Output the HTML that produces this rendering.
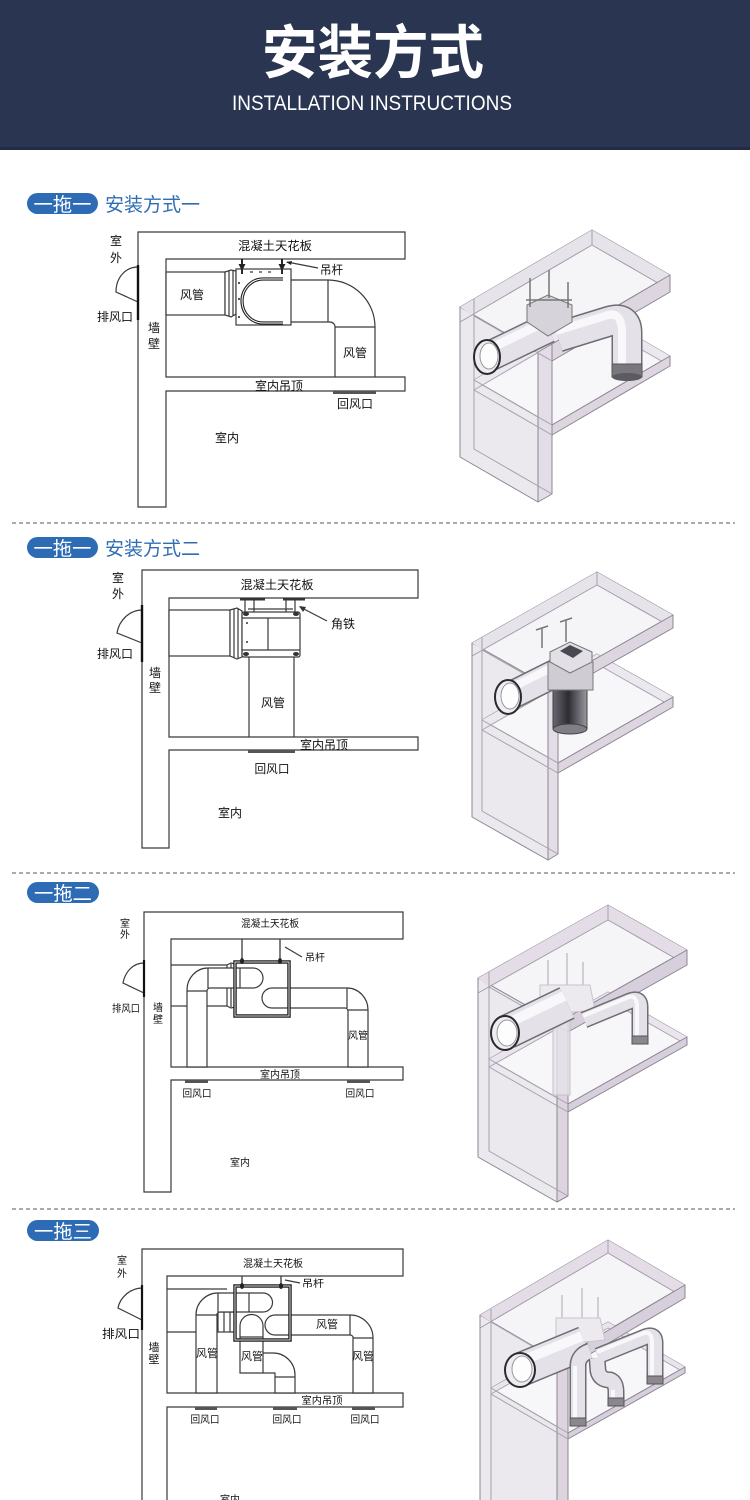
<!DOCTYPE html>
<html><head><meta charset="utf-8">
<style>
html,body{margin:0;padding:0;background:#fff;}
svg{display:block;}
text{font-family:"Liberation Sans","Noto Sans CJK SC",sans-serif;}
</style></head><body>
<svg width="750" height="1500" viewBox="0 0 750 1500" xmlns="http://www.w3.org/2000/svg">
<defs>
 <linearGradient id="dk" x1="0" x2="1" y1="0" y2="0">
  <stop offset="0" stop-color="#6a6870"/><stop offset="0.45" stop-color="#2e2c33"/><stop offset="1" stop-color="#9a98a0"/>
 </linearGradient>
</defs>

<!-- HEADER -->
<rect width="750" height="150" fill="#2a3552"/>
<rect y="147" width="750" height="3" fill="#222b43"/>
<text x="373" y="73" text-anchor="middle" font-size="58" font-weight="bold" fill="#fff" textLength="222" lengthAdjust="spacingAndGlyphs">安装方式</text>
<text x="372" y="110" text-anchor="middle" font-size="21" fill="#fff" textLength="280" lengthAdjust="spacingAndGlyphs">INSTALLATION INSTRUCTIONS</text>

<!-- dashed separators -->
<g stroke="#555" stroke-width="1" stroke-dasharray="4 3">
 <line x1="12" y1="523" x2="735" y2="523"/>
 <line x1="12" y1="873" x2="735" y2="873"/>
 <line x1="12" y1="1209" x2="735" y2="1209"/>
</g>

<!-- PILLS -->
<rect x="27" y="193" width="71" height="21" rx="10.5" fill="#2d6cb4"/>
<text x="62.5" y="211" text-anchor="middle" font-size="19" fill="#fff" textLength="58" lengthAdjust="spacingAndGlyphs">一拖一</text>
<text x="105" y="211" font-size="19" fill="#2f6db5" textLength="95" lengthAdjust="spacingAndGlyphs">安装方式一</text>

<rect x="27" y="537" width="71" height="21" rx="10.5" fill="#2d6cb4"/>
<text x="62.5" y="555" text-anchor="middle" font-size="19" fill="#fff" textLength="58" lengthAdjust="spacingAndGlyphs">一拖一</text>
<text x="105" y="555" font-size="19" fill="#2f6db5" textLength="95" lengthAdjust="spacingAndGlyphs">安装方式二</text>

<rect x="27" y="882" width="72" height="21" rx="10.5" fill="#2d6cb4"/>
<text x="63" y="900" text-anchor="middle" font-size="19" fill="#fff" textLength="58" lengthAdjust="spacingAndGlyphs">一拖二</text>

<rect x="27" y="1220" width="72" height="21" rx="10.5" fill="#2d6cb4"/>
<text x="63" y="1238" text-anchor="middle" font-size="19" fill="#fff" textLength="58" lengthAdjust="spacingAndGlyphs">一拖三</text>

<!-- ============ SECTION 1 2D ============ -->
<g fill="none" stroke="#3a3a3a" stroke-width="1.2">
 <path d="M138,232 H405 V259 H166 V377 H405 V391 H166 V507 H138 Z" fill="#fff"/>
 <path d="M138,267 C126,267 116,277 116,292 L138,302" fill="#fff"/>
 <line x1="138" y1="265" x2="138" y2="320" stroke="#111" stroke-width="2.4"/>
 <rect x="166" y="272" width="59" height="43" fill="#fff"/>
 <path d="M225,272 L231,270 L236,271 V314 L231,317 L225,315 Z" fill="#fff"/>
 <line x1="229" y1="271" x2="229" y2="316"/>
 <line x1="233" y1="270" x2="233" y2="316"/>
 <rect x="236" y="269" width="55" height="56" fill="#fff"/>
 <path d="M283,279 H263 A21 22 0 0 0 263,323 H283" stroke="#222" stroke-width="3.2"/>
 <path d="M283,279 H263 A21 22 0 0 0 263,323 H283" stroke="#fff" stroke-width="1"/>
 <path d="M291,280 H328 A47 47 0 0 1 375,327 V377"/>
 <path d="M291,322 H330 A5 5 0 0 1 335,327 V377"/>
 <line x1="328" y1="280" x2="328" y2="322"/>
 <line x1="335" y1="327" x2="375" y2="327"/>
 <line x1="242" y1="259" x2="242" y2="274" stroke="#111" stroke-width="1.8"/>
 <line x1="282" y1="259" x2="282" y2="274" stroke="#111" stroke-width="1.8"/>
 <line x1="287" y1="262" x2="318" y2="268"/>
 <line x1="250" y1="272" x2="275" y2="272" stroke-dasharray="3 6"/>
</g>
<g fill="#222">
 <path d="M238.5,264 L242,271 L245.5,264 Z"/>
 <path d="M278.5,264 L282,271 L285.5,264 Z"/>
 <circle cx="239" cy="283" r="1"/><circle cx="239" cy="299" r="1"/><circle cx="239" cy="317" r="1"/>
 <path d="M286,262 L292,261 L291,265 Z"/>
 <rect x="333" y="391" width="43" height="3" fill="#555"/>
</g>
<g font-size="12" fill="#111">
 <text x="275" y="250" text-anchor="middle" textLength="74" lengthAdjust="spacingAndGlyphs">混凝土天花板</text>
 <text x="116" y="245" text-anchor="middle">室</text>
 <text x="116" y="262" text-anchor="middle">外</text>
 <text x="97" y="321" textLength="36" lengthAdjust="spacingAndGlyphs">排风口</text>
 <text x="154" y="332" text-anchor="middle">墙</text>
 <text x="154" y="348" text-anchor="middle">壁</text>
 <text x="192" y="299" text-anchor="middle">风管</text>
 <text x="320" y="274" textLength="23" lengthAdjust="spacingAndGlyphs">吊杆</text>
 <text x="355" y="357" text-anchor="middle">风管</text>
 <text x="279" y="390" text-anchor="middle" textLength="48" lengthAdjust="spacingAndGlyphs">室内吊顶</text>
 <text x="355" y="408" text-anchor="middle" textLength="36" lengthAdjust="spacingAndGlyphs">回风口</text>
 <text x="227" y="442" text-anchor="middle">室内</text>
</g>

<!-- ============ SECTION 1 3D ============ -->
<g stroke="#8c8792" stroke-width="1" stroke-linejoin="round">
 <polygon points="460,307 538,352 538,502 460,457" fill="#ebe9ee"/>
 <polygon points="460,307 592,230 670,275 538,352" fill="#f5f4f7"/>
 <polygon points="460,307 592,230 670,275 670,290 592,245 472,315" fill="#e7e3eb" stroke="none"/>
 <polyline points="460,322 592,245 670,290" fill="none" stroke="#a29ca8"/>
 <polygon points="474,380 592,311 670,356 552,425" fill="#f7f6f9"/>
 <polygon points="474,380 592,311 670,356 670,366 592,321 474,390" fill="#ebe8ef" stroke="none"/>
 <polyline points="474,390 592,321 670,366" fill="none" stroke="#aaa5b0"/>
 <polygon points="552,344 670,275 670,292 552,361" fill="#ddd6e1"/>
 <polygon points="538,352 552,344 552,494 538,502" fill="#e2dde6"/>
 <polygon points="552,425 670,356 670,366 552,435" fill="#ddd6e1"/>
 <g fill="none" stroke="#a6a1ab">
  <polyline points="474,299 474,449 552,494"/>
  <line x1="474" y1="316" x2="552" y2="361"/>
  <line x1="474" y1="380" x2="552" y2="425"/>
  <line x1="474" y1="390" x2="552" y2="435"/>
  <line x1="592" y1="230" x2="592" y2="245"/>
 </g>
</g>
<g fill="none" stroke-linecap="butt">
 <path d="M490,356 L548,328" stroke="#6f6c74" stroke-width="31"/>
 <path d="M490,356 L548,328" stroke="#e4e2e8" stroke-width="28"/>
 <path d="M487,350 L545,322" stroke="#f8f7fa" stroke-width="9"/>
 <path d="M558,337 L610,321 Q627,316 627,333 L627,370" stroke="#6f6c74" stroke-width="31"/>
 <path d="M558,337 L610,321 Q627,316 627,333 L627,370" stroke="#e4e2e8" stroke-width="28"/>
 <path d="M556,331 L608,315 Q621,312 622,330 L622,368" stroke="#f8f7fa" stroke-width="8"/>
</g>
<rect x="612" y="364" width="30" height="13" fill="#7a787e" stroke="#555"/>
<ellipse cx="627" cy="377" rx="15" ry="4" fill="#5d5b62"/>
<polygon points="527,305 548,295 572,305 572,322 548,336 527,322" fill="#d6d4da" stroke="#777"/>
<g stroke="#777" stroke-width="1.5">
 <line x1="530" y1="278" x2="530" y2="307"/>
 <line x1="549" y1="270" x2="549" y2="298"/>
 <line x1="568" y1="282" x2="568" y2="308"/>
 <line x1="526" y1="300" x2="572" y2="300"/>
</g>
<ellipse cx="487" cy="357" rx="13" ry="17" fill="#eeecf1" stroke="#2a2a2e" stroke-width="2"/>
<ellipse cx="489" cy="356" rx="9" ry="13" fill="#fdfdfd" stroke="#9a98a0"/>

<!-- ============ SECTION 2 2D ============ -->
<g fill="none" stroke="#3a3a3a" stroke-width="1.2">
 <path d="M142,570 H418 V598 H169 V737 H418 V750 H169 V848 H142 Z" fill="#fff"/>
 <path d="M142,610 C130,610 119,620 117,633 L142,643" fill="#fff"/>
 <line x1="142" y1="605" x2="142" y2="662" stroke="#111" stroke-width="2.4"/>
 <rect x="169" y="610" width="61" height="46" fill="#fff"/>
 <path d="M230,610 L237,608 L242,611 V657 L237,659 L230,656 Z" fill="#fff"/>
 <line x1="234" y1="609" x2="234" y2="658"/>
 <line x1="238" y1="609" x2="238" y2="658"/>
 <rect x="242" y="612" width="58" height="45" rx="2" fill="#fff"/>
 <line x1="242" y1="618" x2="300" y2="618"/>
 <line x1="242" y1="650" x2="300" y2="650"/>
 <line x1="268" y1="618" x2="268" y2="650"/>
 <line x1="245" y1="600" x2="245" y2="612"/>
 <line x1="254" y1="600" x2="254" y2="612"/>
 <line x1="286" y1="600" x2="286" y2="612"/>
 <line x1="295" y1="600" x2="295" y2="612"/>
 <line x1="248" y1="609" x2="293" y2="609"/>
 <line x1="249" y1="657" x2="249" y2="737"/>
 <line x1="294" y1="657" x2="294" y2="737"/>
 <line x1="300" y1="607" x2="327" y2="621"/>
</g>
<g fill="#333">
 <rect x="240" y="598" width="25" height="2.5"/>
 <rect x="283" y="598" width="22" height="2.5"/>
 <ellipse cx="246" cy="614" rx="3" ry="2"/><ellipse cx="296" cy="614" rx="3" ry="2"/>
 <ellipse cx="246" cy="654" rx="3" ry="2"/><ellipse cx="296" cy="654" rx="3" ry="2"/>
 <circle cx="247" cy="623" r="1"/><circle cx="247" cy="642" r="1"/>
 <path d="M299,606 L306,607 L303,612 Z"/>
 <rect x="248" y="750" width="47" height="3" fill="#555"/>
</g>
<g font-size="12" fill="#111">
 <text x="277" y="589" text-anchor="middle" textLength="73" lengthAdjust="spacingAndGlyphs">混凝土天花板</text>
 <text x="118" y="582" text-anchor="middle">室</text>
 <text x="118" y="598" text-anchor="middle">外</text>
 <text x="97" y="658" textLength="36" lengthAdjust="spacingAndGlyphs">排风口</text>
 <text x="155" y="677" text-anchor="middle">墙</text>
 <text x="155" y="692" text-anchor="middle">壁</text>
 <text x="331" y="628" textLength="24" lengthAdjust="spacingAndGlyphs">角铁</text>
 <text x="273" y="707" text-anchor="middle">风管</text>
 <text x="324" y="749" text-anchor="middle" textLength="48" lengthAdjust="spacingAndGlyphs">室内吊顶</text>
 <text x="272" y="773" text-anchor="middle" textLength="35" lengthAdjust="spacingAndGlyphs">回风口</text>
 <text x="230" y="817" text-anchor="middle">室内</text>
</g>

<!-- ============ SECTION 2 3D ============ -->
<g stroke="#8c8792" stroke-width="1" stroke-linejoin="round">
 <polygon points="472,643 548,686 548,860 472,817" fill="#ebe9ee"/>
 <polygon points="472,643 597,572 673,615 548,686" fill="#f5f4f7"/>
 <polygon points="472,643 597,572 673,615 673,628 597,585 482,650" fill="#e7e3eb" stroke="none"/>
 <polyline points="472,656 597,585 673,628" fill="none" stroke="#a29ca8"/>
 <polygon points="482,720 597,654 673,697 558,763" fill="#f7f6f9"/>
 <polygon points="482,720 597,654 673,697 673,707 597,664 482,730" fill="#ebe8ef" stroke="none"/>
 <polyline points="482,730 597,664 673,707" fill="none" stroke="#aaa5b0"/>
 <polygon points="558,680 673,615 673,628 558,693" fill="#ddd6e1"/>
 <polygon points="548,686 558,680 558,854 548,860" fill="#e2dde6"/>
 <polygon points="558,763 673,697 673,707 558,773" fill="#ddd6e1"/>
 <g fill="none" stroke="#a6a1ab">
  <polyline points="482,637 482,811 558,854"/>
  <line x1="482" y1="650" x2="558" y2="693"/>
  <line x1="482" y1="720" x2="558" y2="763"/>
  <line x1="482" y1="730" x2="558" y2="773"/>
  <line x1="597" y1="572" x2="597" y2="585"/>
 </g>
</g>
<g fill="none">
 <path d="M510,696 L558,672" stroke="#6f6c74" stroke-width="29"/>
 <path d="M510,696 L558,672" stroke="#e4e2e8" stroke-width="26"/>
 <path d="M507,690 L555,666" stroke="#f8f7fa" stroke-width="8"/>
</g>
<rect x="553" y="688" width="34" height="40" fill="url(#dk)" stroke="#444"/>
<ellipse cx="570" cy="729" rx="17" ry="5" fill="#807e86" stroke="#444"/>
<polygon points="548,662 593,662 593,690 548,690" fill="#cfcdd3" stroke="#777"/>
<polygon points="550,652 570,642 592,652 592,662 570,673 550,662" fill="#e2e0e6" stroke="#777"/>
<polygon points="560,651 570,645 583,651 573,658" fill="#4a4850"/>
<g stroke="#777" stroke-width="1.5">
 <line x1="542" y1="628" x2="542" y2="648"/><line x1="536" y1="630" x2="548" y2="626"/>
 <line x1="566" y1="620" x2="566" y2="642"/><line x1="560" y1="622" x2="572" y2="618"/>
</g>
<ellipse cx="508" cy="697" rx="13" ry="17" fill="#eeecf1" stroke="#2a2a2e" stroke-width="2"/>
<ellipse cx="510" cy="696" rx="9" ry="13" fill="#fdfdfd" stroke="#9a98a0"/>

<!-- ============ SECTION 3 2D ============ -->
<g fill="none" stroke="#3a3a3a" stroke-width="1.2">
 <path d="M144,912 H403 V939 H171 V1067 H403 V1080 H171 V1192 H144 Z" fill="#fff"/>
 <path d="M144,963 C133,963 125,972 123,983 L144,993" fill="#fff"/>
 <line x1="144" y1="960" x2="144" y2="997" stroke="#111" stroke-width="2.2"/>
 <line x1="171" y1="965" x2="227" y2="965"/>
 <line x1="171" y1="1006" x2="187" y2="1006"/>
 <line x1="207" y1="1006" x2="227" y2="1006"/>
 <path d="M227,965 L231,963 L235,964 V1007 L231,1008 L227,1006 Z" fill="#fff"/>
 <line x1="231" y1="964" x2="231" y2="1007"/>
 <rect x="235" y="962" width="54" height="54" fill="#fff" stroke="none"/>
 <path d="M263,978 A10 10 0 0 0 253,968 H208 A21 22 0 0 0 187,990 V1067 H207 V991 A3 3 0 0 1 210,988 H253 A10 10 0 0 0 263,978 Z" fill="#fff"/>
 <line x1="208" y1="968" x2="208" y2="988"/>
 <line x1="187" y1="991" x2="207" y2="991"/>
 <line x1="240" y1="968" x2="240" y2="988"/>
 <path d="M272,988 H347 A21 22 0 0 1 368,1010 V1067 H348 V1011 A3 3 0 0 0 345,1008 H272 A10 10 0 0 1 272,988 Z" fill="#fff"/>
 <line x1="347" y1="988" x2="347" y2="1008"/>
 <line x1="348" y1="1010" x2="368" y2="1010"/>
 <rect x="235" y="962" width="54" height="54" stroke="#222" stroke-width="3.5"/>
 <rect x="235" y="962" width="54" height="54" stroke="#fff" stroke-width="0.8"/>
 <line x1="242" y1="939" x2="242" y2="963" stroke-width="1.3"/>
 <line x1="280" y1="939" x2="280" y2="963" stroke-width="1.3"/>
 <line x1="285" y1="947" x2="302" y2="957"/>
</g>
<g fill="#222">
 <ellipse cx="242" cy="961" rx="2" ry="3"/><ellipse cx="280" cy="961" rx="2" ry="3"/>
 <rect x="185" y="1080" width="23" height="3" fill="#555"/>
 <rect x="347" y="1080" width="23" height="3" fill="#555"/>
</g>
<g font-size="10" fill="#111">
 <text x="270" y="927" text-anchor="middle" textLength="58" lengthAdjust="spacingAndGlyphs">混凝土天花板</text>
 <text x="125" y="927" text-anchor="middle">室</text>
 <text x="125" y="938" text-anchor="middle">外</text>
 <text x="112" y="1012" textLength="28" lengthAdjust="spacingAndGlyphs">排风口</text>
 <text x="158" y="1011" text-anchor="middle">墙</text>
 <text x="158" y="1023" text-anchor="middle">壁</text>
 <text x="305" y="961" textLength="20" lengthAdjust="spacingAndGlyphs">吊杆</text>
 <text x="358" y="1039" text-anchor="middle">风管</text>
 <text x="280" y="1078" text-anchor="middle" textLength="40" lengthAdjust="spacingAndGlyphs">室内吊顶</text>
 <text x="197" y="1097" text-anchor="middle" textLength="29" lengthAdjust="spacingAndGlyphs">回风口</text>
 <text x="360" y="1097" text-anchor="middle" textLength="29" lengthAdjust="spacingAndGlyphs">回风口</text>
 <text x="240" y="1166" text-anchor="middle">室内</text>
</g>

<!-- ============ SECTION 3 3D ============ -->
<g stroke="#8c8792" stroke-width="1" stroke-linejoin="round">
 <polygon points="478,978 557,1023 557,1202 478,1157" fill="#ebe9ee"/>
 <polygon points="478,978 608,905 687,950 557,1023" fill="#f5f4f7"/>
 <polygon points="478,978 608,905 687,950 687,965 608,920 489,987" fill="#e4dde8" stroke="none"/>
 <polyline points="478,993 608,920 687,965" fill="none" stroke="#a29ca8"/>
 <polygon points="489,1059 608,992 687,1037 568,1104" fill="#f7f6f9"/>
 <polygon points="489,1059 608,992 687,1037 687,1045 608,1000 489,1067" fill="#e9e4ed" stroke="none"/>
 <polyline points="489,1067 608,1000 687,1045" fill="none" stroke="#aaa5b0"/>
 <polygon points="568,1017 687,950 687,965 568,1032" fill="#d8cfdc"/>
 <polygon points="557,1023 568,1017 568,1196 557,1202" fill="#ddd4e0"/>
 <polygon points="568,1104 687,1037 687,1045 568,1112" fill="#d8cfdc"/>
 <g fill="none" stroke="#a6a1ab">
  <polyline points="489,972 489,1151 568,1196"/>
  <line x1="489" y1="987" x2="568" y2="1032"/>
  <line x1="489" y1="1059" x2="568" y2="1104"/>
  <line x1="489" y1="1067" x2="568" y2="1112"/>
  <line x1="608" y1="905" x2="608" y2="920"/>
 </g>
</g>
<g stroke="#bdb9c2" stroke-width="1.3">
 <line x1="548" y1="960" x2="548" y2="990"/>
 <line x1="567" y1="953" x2="567" y2="985"/>
 <line x1="583" y1="962" x2="583" y2="992"/>
</g>
<polygon points="540,985 590,985 595,1010 540,1015" fill="#eceaef" stroke="#c8c4cc"/>
<rect x="553" y="1015" width="17" height="80" fill="#e6e2ea" fill-opacity="0.8" stroke="#c5c0c9"/>
<g fill="none">
 <path d="M507,1032 L567,1003" stroke="#6f6c74" stroke-width="35"/>
 <path d="M507,1032 L567,1003" stroke="#e4e2e8" stroke-width="32"/>
 <path d="M504,1025 L564,996" stroke="#f8f7fa" stroke-width="10"/>
 <path d="M584,1020 L630,1001 Q640,997 640,1007 L640,1040" stroke="#6f6c74" stroke-width="17"/>
 <path d="M584,1020 L630,1001 Q640,997 640,1007 L640,1040" stroke="#e4e2e8" stroke-width="14"/>
 <path d="M583,1016 L629,997 Q636,995 637,1005 L637,1038" stroke="#f8f7fa" stroke-width="4"/>
</g>
<rect x="632" y="1036" width="16" height="8" fill="#8a888e" stroke="#555"/>
<ellipse cx="505" cy="1033" rx="14" ry="17" fill="#eeecf1" stroke="#2a2a2e" stroke-width="2"/>
<ellipse cx="507" cy="1033" rx="10" ry="13" fill="#fdfdfd" stroke="#9a98a0"/>

<!-- ============ SECTION 4 2D ============ -->
<g fill="none" stroke="#3a3a3a" stroke-width="1.2">
 <path d="M142,1510 V1249 H403 V1276 H167 V1393 H403 V1407 H167 V1510" fill="#fff"/>
 <path d="M142,1288 C131,1288 120,1297 118,1308 L142,1320" fill="#fff"/>
 <line x1="142" y1="1285" x2="142" y2="1330" stroke="#111" stroke-width="2.2"/>
 <line x1="167" y1="1289" x2="227" y2="1289"/>
 <line x1="167" y1="1332" x2="196" y2="1332"/>
 <rect x="218" y="1312" width="20" height="20" fill="#fff"/>
 <line x1="224" y1="1312" x2="224" y2="1332"/>
 <line x1="230" y1="1312" x2="230" y2="1332"/>
 <rect x="235" y="1286" width="55" height="54" fill="#fff" stroke="none"/>
 <path d="M263,1293 H218 A22 22 0 0 0 196,1315 V1393 H217 V1316 A3 3 0 0 1 220,1312 H263 A9.5 9.5 0 0 0 263,1293 Z" fill="#fff"/>
 <line x1="218" y1="1293" x2="218" y2="1312"/>
 <line x1="249" y1="1293" x2="249" y2="1312"/>
 <line x1="196" y1="1315" x2="217" y2="1315"/>
 <path d="M240,1326 A11.5 11.5 0 0 1 263,1326 V1353 H273 A22 22 0 0 1 295,1375 V1393 H275 V1373 H240 Z" fill="#fff"/>
 <line x1="240" y1="1337" x2="263" y2="1337"/>
 <line x1="263" y1="1353" x2="263" y2="1373"/>
 <line x1="275" y1="1377" x2="295" y2="1377"/>
 <path d="M275,1315 H350 A23 23 0 0 1 373,1338 V1393 H353 V1339 A3 3 0 0 0 350,1335 H275 A10 10 0 0 1 275,1315 Z" fill="#fff"/>
 <line x1="350" y1="1315" x2="350" y2="1335"/>
 <line x1="353" y1="1338" x2="373" y2="1338"/>
 <rect x="235" y="1286" width="55" height="54" stroke="#222" stroke-width="3.5"/>
 <rect x="235" y="1286" width="55" height="54" stroke="#fff" stroke-width="0.8"/>
 <line x1="242" y1="1276" x2="242" y2="1288" stroke-width="1.3"/>
 <line x1="281" y1="1276" x2="281" y2="1288" stroke-width="1.3"/>
 <line x1="285" y1="1280" x2="300" y2="1283"/>
</g>
<g fill="#222">
 <ellipse cx="242" cy="1286" rx="2" ry="3"/><ellipse cx="281" cy="1286" rx="2" ry="3"/>
 <rect x="195" y="1407" width="22" height="3" fill="#555"/>
 <rect x="273" y="1407" width="24" height="3" fill="#555"/>
 <rect x="352" y="1407" width="23" height="3" fill="#555"/>
</g>
<g font-size="10" fill="#111">
 <text x="273" y="1267" text-anchor="middle" textLength="60" lengthAdjust="spacingAndGlyphs">混凝土天花板</text>
 <text x="122" y="1264" text-anchor="middle">室</text>
 <text x="122" y="1277" text-anchor="middle">外</text>
 <text x="102" y="1338" font-size="12" textLength="38" lengthAdjust="spacingAndGlyphs">排风口</text>
 <text x="154" y="1351" text-anchor="middle" font-size="11">墙</text>
 <text x="154" y="1363" text-anchor="middle" font-size="11">壁</text>
 <text x="302" y="1287" textLength="22" lengthAdjust="spacingAndGlyphs">吊杆</text>
 <text x="327" y="1328" text-anchor="middle" font-size="11">风管</text>
 <text x="207" y="1357" text-anchor="middle" font-size="11">风管</text>
 <text x="252" y="1360" text-anchor="middle" font-size="11">风管</text>
 <text x="363" y="1360" text-anchor="middle" font-size="11">风管</text>
 <text x="322" y="1404" text-anchor="middle" textLength="41" lengthAdjust="spacingAndGlyphs">室内吊顶</text>
 <text x="205" y="1423" text-anchor="middle" textLength="29" lengthAdjust="spacingAndGlyphs">回风口</text>
 <text x="287" y="1423" text-anchor="middle" textLength="29" lengthAdjust="spacingAndGlyphs">回风口</text>
 <text x="365" y="1423" text-anchor="middle" textLength="29" lengthAdjust="spacingAndGlyphs">回风口</text>
 <text x="230" y="1503" text-anchor="middle">室内</text>
</g>

<!-- ============ SECTION 4 3D ============ -->
<g stroke="#8c8792" stroke-width="1" stroke-linejoin="round">
 <polygon points="480,1315 557,1360 557,1520 480,1520" fill="#ebe9ee"/>
 <polygon points="480,1315 608,1240 685,1285 557,1360" fill="#f5f4f7"/>
 <polygon points="480,1315 608,1240 685,1285 685,1298 608,1253 491,1322" fill="#e4dde8" stroke="none"/>
 <polyline points="480,1328 608,1253 685,1298" fill="none" stroke="#a29ca8"/>
 <polygon points="491,1388 608,1322 685,1367 568,1433" fill="#f7f6f9"/>
 <polygon points="491,1388 608,1322 685,1367 685,1373 608,1328 491,1394" fill="#e9e4ed" stroke="none"/>
 <polyline points="491,1394 608,1328 685,1373" fill="none" stroke="#aaa5b0"/>
 <polygon points="568,1354 685,1285 685,1298 568,1367" fill="#d8cfdc"/>
 <polygon points="557,1360 568,1354 568,1520 557,1520" fill="#ddd4e0"/>
 <polygon points="568,1433 685,1367 685,1373 568,1439" fill="#d8cfdc"/>
 <g fill="none" stroke="#a6a1ab">
  <line x1="491" y1="1309" x2="491" y2="1500"/>
  <line x1="491" y1="1322" x2="568" y2="1367"/>
  <line x1="491" y1="1388" x2="568" y2="1433"/>
  <line x1="491" y1="1394" x2="568" y2="1439"/>
  <line x1="608" y1="1240" x2="608" y2="1253"/>
 </g>
</g>
<g stroke="#bdb9c2" stroke-width="1.3">
 <line x1="562" y1="1295" x2="562" y2="1322"/>
 <line x1="582" y1="1288" x2="582" y2="1318"/>
 <line x1="598" y1="1297" x2="598" y2="1325"/>
</g>
<polygon points="556,1318 600,1318 605,1340 556,1345" fill="#eceaef" stroke="#c8c4cc"/>
<g fill="none">
 <path d="M522,1369 L585,1343" stroke="#6f6c74" stroke-width="35"/>
 <path d="M522,1369 L585,1343" stroke="#e4e2e8" stroke-width="32"/>
 <path d="M519,1362 L582,1336" stroke="#f8f7fa" stroke-width="10"/>
 <g stroke="#6f6c74" stroke-width="17">
  <path d="M598,1356 L645,1337 Q655,1333 655,1343 L655,1380"/>
  <path d="M590,1351 Q578,1355 578,1366 L578,1422"/>
  <path d="M597,1358 L598,1371 Q600,1380 610,1380 Q616,1382 616,1392 L616,1401"/>
 </g>
 <g stroke="#e4e2e8" stroke-width="14">
  <path d="M598,1356 L645,1337 Q655,1333 655,1343 L655,1380"/>
  <path d="M590,1351 Q578,1355 578,1366 L578,1422"/>
  <path d="M597,1358 L598,1371 Q600,1380 610,1380 Q616,1382 616,1392 L616,1401"/>
 </g>
 <g stroke="#f8f7fa" stroke-width="4">
  <path d="M597,1352 L644,1333 Q651,1331 652,1341 L652,1378"/>
  <path d="M575,1366 L575,1420"/>
  <path d="M613,1390 L613,1399"/>
 </g>
</g>
<g fill="#8a888e" stroke="#555">
 <rect x="647" y="1376" width="16" height="8"/>
 <rect x="570" y="1418" width="16" height="8"/>
 <rect x="608" y="1398" width="16" height="8"/>
</g>
<ellipse cx="520" cy="1370" rx="15" ry="17" fill="#eeecf1" stroke="#2a2a2e" stroke-width="2"/>
<ellipse cx="522" cy="1369" rx="10" ry="13" fill="#fdfdfd" stroke="#9a98a0"/>
</svg>
</body></html>
